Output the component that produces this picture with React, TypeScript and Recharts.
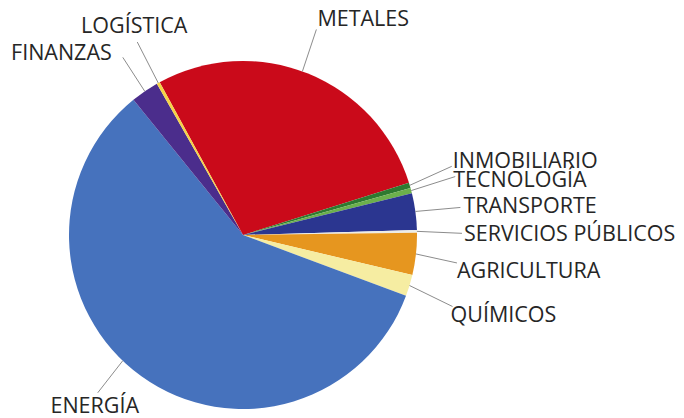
import { PieChart, Pie, Cell } from 'recharts';

const sectors = [
  'METALES',
  'INMOBILIARIO',
  'TECNOLOGÍA',
  'TRANSPORTE',
  'SERVICIOS PÚBLICOS',
  'AGRICULTURA',
  'QUÍMICOS',
  'ENERGÍA',
  'FINANZAS',
  'LOGÍSTICA',
];

// share of total, %
const shares = [28.1, 0.5, 0.5, 3.4, 0.25, 3.9, 2.0, 58.5, 2.6, 0.3];

const colors = [
  '#CA0A1A',
  '#2E7A30',
  '#6CB04C',
  '#2B3690',
  '#EDEDE6',
  '#E6961F',
  '#F6EDA2',
  '#4672BD',
  '#4B2D8C',
  '#F5D347',
];

const data = sectors.map((name, i) => ({ name, value: shares[i] }));

// leader line end relative to rim point, text relative to line end
const labelLayout: Record<string, { dx: number; dy: number; tx: number; ty: number; anchor: 'start' | 'middle' | 'end'; shift?: number }> = {
  'METALES': { dx: 14, dy: -42, tx: 1, ty: -3, anchor: 'start', shift: 2 },
  'INMOBILIARIO': { dx: 42, dy: -19, tx: 1, ty: 2, anchor: 'start' },
  'TECNOLOGÍA': { dx: 44, dy: -14, tx: -2, ty: 10, anchor: 'start' },
  'TRANSPORTE': { dx: 45, dy: -4, tx: 3, ty: 6, anchor: 'start' },
  'SERVICIOS PÚBLICOS': { dx: 45, dy: 2, tx: 2, ty: 8, anchor: 'start' },
  'AGRICULTURA': { dx: 41, dy: 9, tx: 0, ty: 15, anchor: 'start' },
  'QUÍMICOS': { dx: 43, dy: 21, tx: -2, ty: 15, anchor: 'start' },
  'ENERGÍA': { dx: -25, dy: 32, tx: -3, ty: 20, anchor: 'middle', shift: -8 },
  'FINANZAS': { dx: -22, dy: -34, tx: -11, ty: 3, anchor: 'end' },
  'LOGÍSTICA': { dx: -21, dy: -41, tx: -3, ty: -9, anchor: 'middle' },
};

const RADIAN = Math.PI / 180;

const renderLabel = (props: any) => {
  const { cx, cy, midAngle, outerRadius, index } = props;
  const name = sectors[index];
  const l = labelLayout[name];
  const a = (midAngle + (l.shift ?? 0)) * RADIAN;
  const sx = cx + outerRadius * Math.cos(-a);
  const sy = cy + outerRadius * Math.sin(-a);
  const ex = sx + l.dx;
  const ey = sy + l.dy;
  return (
    <g key={`label-${name}`}>
      <line x1={sx} y1={sy} x2={ex} y2={ey} stroke="#8c8c8c" strokeWidth={1} />
      <text
        x={ex + l.tx}
        y={ey + l.ty}
        textAnchor={l.anchor}
        fill="#262626"
        fontSize={21.5}
        fontFamily="'Open Sans', sans-serif"
      >
        {name}
      </text>
    </g>
  );
};

export default function App() {
  return (
    <div style={{ position: 'absolute', left: 0, top: 0, background: '#fff' }}>
      <PieChart width={684} height={418} margin={{ top: 0, right: 0, bottom: 0, left: 0 }}>
        <Pie
          data={data}
          dataKey="value"
          nameKey="name"
          cx={243}
          cy={235}
          outerRadius={174}
          startAngle={118.6}
          endAngle={-241.4}
          stroke="none"
          label={renderLabel}
          labelLine={false}
          isAnimationActive={false}
        >
          {data.map((d, i) => (
            <Cell key={d.name} fill={colors[i]} />
          ))}
        </Pie>
      </PieChart>
    </div>
  );
}
